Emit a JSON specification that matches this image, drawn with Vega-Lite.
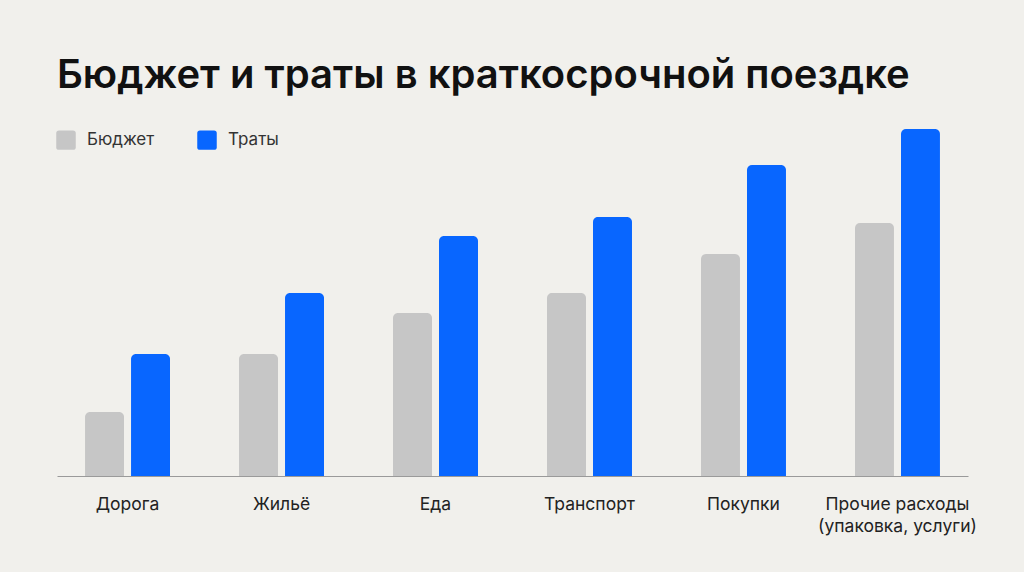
{
  "$schema": "https://vega.github.io/schema/vega-lite/v6.json",
  "autosize": "none",
  "width": 911,
  "height": 350,
  "padding": {"left": 57, "top": 126, "right": 56, "bottom": 96},
  "background": "#f1f0ec",
  "title": {
    "text": "Бюджет и траты в краткосрочной поездке",
    "anchor": "start",
    "frame": "group",
    "font": "Inter",
    "fontSize": 40,
    "fontWeight": 600,
    "color": "#111111",
    "baseline": "alphabetic",
    "offset": 34,
    "dy": 36
  },
  "data": {
    "values": [
      {"category": "Дорога", "series": "Бюджет", "value": 64},
      {"category": "Дорога", "series": "Траты", "value": 122},
      {"category": "Жильё", "series": "Бюджет", "value": 122},
      {"category": "Жильё", "series": "Траты", "value": 183},
      {"category": "Еда", "series": "Бюджет", "value": 163},
      {"category": "Еда", "series": "Траты", "value": 240},
      {"category": "Транспорт", "series": "Бюджет", "value": 183},
      {"category": "Транспорт", "series": "Траты", "value": 259},
      {"category": "Покупки", "series": "Бюджет", "value": 222},
      {"category": "Покупки", "series": "Траты", "value": 311},
      {"category": "Прочие расходы (упаковка, услуги)", "series": "Бюджет", "value": 253},
      {"category": "Прочие расходы (упаковка, услуги)", "series": "Траты", "value": 347}
    ]
  },
  "mark": {"type": "bar", "cornerRadiusTopLeft": 5, "cornerRadiusTopRight": 5},
  "encoding": {
    "x": {
      "field": "category",
      "type": "nominal",
      "sort": null,
      "title": null,
      "scale": {"paddingInner": 0.448, "paddingOuter": 0.182},
      "axis": {
        "labelAngle": 0,
        "ticks": false,
        "domainColor": "#9a9a9a",
        "domainWidth": 1.2,
        "labelFont": "Inter",
        "labelFontSize": 17.5,
        "labelColor": "#222222",
        "labelPadding": 19,
        "labelBaseline": "top",
        "labelLineHeight": 22,
        "labelExpr": "datum.value == 'Прочие расходы (упаковка, услуги)' ? ['Прочие расходы', '(упаковка, услуги)'] : datum.value"
      }
    },
    "xOffset": {
      "field": "series",
      "type": "nominal",
      "scale": {"paddingInner": 0.152, "paddingOuter": 0}
    },
    "y": {
      "field": "value",
      "type": "quantitative",
      "scale": {"domain": [0, 350]},
      "axis": null
    },
    "color": {
      "field": "series",
      "type": "nominal",
      "title": null,
      "scale": {"domain": ["Бюджет", "Траты"], "range": ["#c6c6c6", "#0866ff"]},
      "legend": {
        "orient": "none",
        "legendX": -1,
        "legendY": 4,
        "direction": "horizontal",
        "symbolType": "M-0.72,-1 L0.72,-1 Q1,-1 1,-0.72 L1,0.72 Q1,1 0.72,1 L-0.72,1 Q-1,1 -1,0.72 L-1,-0.72 Q-1,-1 -0.72,-1 Z",
        "symbolSize": 380,
        "symbolStrokeWidth": 0,
        "labelFont": "Inter",
        "labelFontSize": 17,
        "labelColor": "#333333",
        "labelOffset": 11,
        "columnPadding": 42
      }
    }
  },
  "config": {"view": {"stroke": null}}
}
